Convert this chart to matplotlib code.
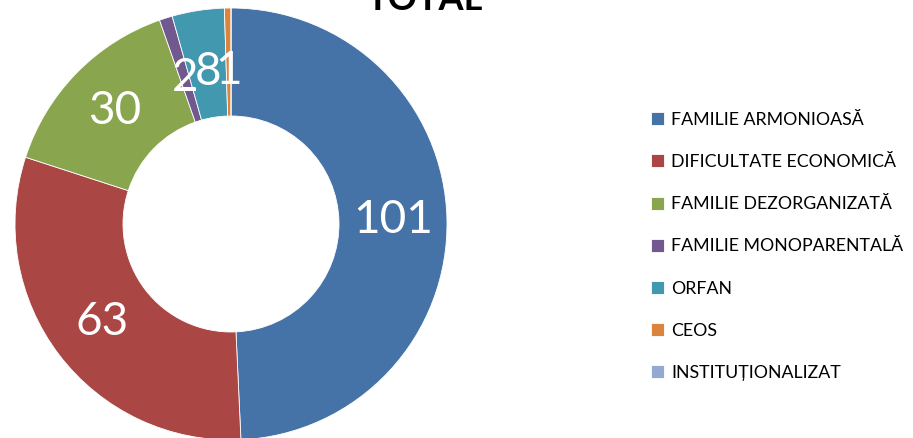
import numpy as np
from matplotlib import pyplot as plt

categories = ["FAMILIE ARMONIOASĂ", "DIFICULTATE ECONOMICĂ", "FAMILIE DEZORGANIZATĂ",
              "FAMILIE MONOPARENTALĂ", "ORFAN", "CEOS", "INSTITUȚIONALIZAT"]
values = [101, 63, 30, 2, 8, 1, 0]
colors = ["#4572A7", "#AA4643", "#89A54E", "#71588F", "#4198AF", "#DB843D", "#93A9CF"]

plt.rcParams['font.family'] = ['Lato', 'DejaVu Sans']

W, H = 913, 438
fig = plt.figure(figsize=(W / 100, H / 100), dpi=100)

# donut centre (231, 224) px, outer radius 216 px
cx, cy, r = 231, 224, 216
ax = fig.add_axes([(cx - r) / W, (H - cy - r) / H, 2 * r / W, 2 * r / H])

wedges, _ = ax.pie(values, colors=colors, startangle=90, counterclock=False,
                   radius=1.0, wedgeprops=dict(width=0.5, edgecolor="white", linewidth=0.6))
ax.set_xlim(-1, 1)
ax.set_ylim(-1, 1)
ax.set_aspect("equal")
ax.axis("off")

# data labels at mid ring
for w, v in zip(wedges, values):
    if v == 0:
        continue
    ang = np.deg2rad((w.theta1 + w.theta2) / 2)
    rr = 0.75 if v > 10 else 0.71
    ax.text(rr * np.cos(ang), rr * np.sin(ang), str(v), ha="center", va="center",
            fontsize=33, color="white")

fig.text(425 / W, 1 - 10 / H, "TOTAL", ha="center", va="baseline",
         fontsize=26, fontweight="bold")

fig.legend(wedges, categories, loc="upper left", bbox_to_anchor=(651 / W, 1 - 112 / H),
           frameon=False, fontsize=12.8, handlelength=0.75, handleheight=0.75,
           handletextpad=0.4, labelspacing=1.47, borderpad=0, borderaxespad=0)

fig.savefig("out.png", dpi=100)
